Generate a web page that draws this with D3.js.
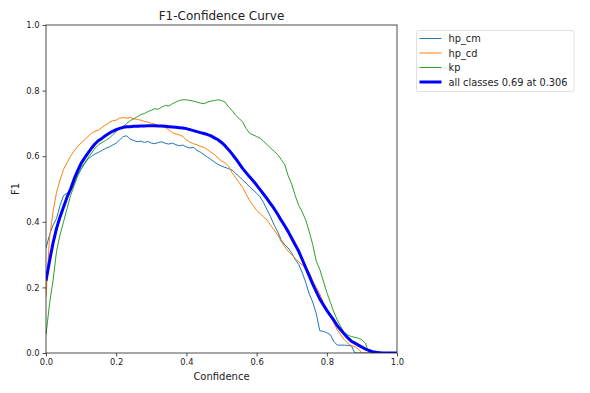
<!DOCTYPE html>
<html>
<head>
<meta charset="utf-8">
<script src="https://cdn.jsdelivr.net/npm/d3@7"></script>
<style>
  body { margin: 0; background: #fff; }
  svg { font-family: "DejaVu Sans", sans-serif; }
</style>
</head>
<body>
<svg id="chart" width="590" height="393"></svg>
<script>
// confidence grid (x values)
const conf = [
    0.00, 0.01, 0.02, 0.03, 0.04, 0.05, 0.06, 0.07, 0.08, 0.09,
    0.10, 0.11, 0.12, 0.13, 0.14, 0.15, 0.16, 0.17, 0.18, 0.19,
    0.20, 0.21, 0.22, 0.23, 0.24, 0.25, 0.26, 0.27, 0.28, 0.29,
    0.30, 0.31, 0.32, 0.33, 0.34, 0.35, 0.36, 0.37, 0.38, 0.39,
    0.40, 0.41, 0.42, 0.43, 0.44, 0.45, 0.46, 0.47, 0.48, 0.49,
    0.50, 0.51, 0.52, 0.53, 0.54, 0.55, 0.56, 0.57, 0.58, 0.59,
    0.60, 0.61, 0.62, 0.63, 0.64, 0.65, 0.66, 0.67, 0.68, 0.69,
    0.70, 0.71, 0.72, 0.73, 0.74, 0.75, 0.76, 0.77, 0.78, 0.79,
    0.80, 0.81, 0.82, 0.83, 0.84, 0.85, 0.86, 0.87, 0.88, 0.89,
    0.90, 0.91, 0.92, 0.93, 0.94, 0.95, 0.96, 0.97, 0.98, 0.99, 1.00
];

const hpCm = [
    0.32, 0.36, 0.39, 0.41, 0.45, 0.48, 0.487, 0.495, 0.515, 0.54,
    0.56, 0.577, 0.592, 0.60, 0.607, 0.612, 0.618, 0.624, 0.628, 0.634,
    0.64, 0.65, 0.66, 0.662, 0.652, 0.648, 0.644, 0.646, 0.642, 0.645,
    0.64, 0.638, 0.642, 0.644, 0.639, 0.637, 0.64, 0.635, 0.632, 0.634,
    0.628, 0.625, 0.627, 0.618, 0.612, 0.605, 0.597, 0.59, 0.582, 0.575,
    0.57, 0.566, 0.562, 0.558, 0.548, 0.538, 0.528, 0.518, 0.507, 0.497,
    0.487, 0.476, 0.458, 0.436, 0.415, 0.39, 0.37, 0.345, 0.33, 0.32,
    0.305, 0.285, 0.27, 0.245, 0.215, 0.18, 0.155, 0.12, 0.068, 0.066,
    0.062, 0.056, 0.035, 0.024, 0.024, 0.024, 0.023, 0.022, 0.0, 0.0,
    0.0, 0.0, 0.0, 0.0, 0.0, 0.0, 0.0, 0.0, 0.0, 0.0, 0.0
];

const hpCd = [
    0.17, 0.35, 0.43, 0.49, 0.527, 0.56, 0.58, 0.60, 0.615, 0.63,
    0.64, 0.65, 0.66, 0.67, 0.676, 0.68, 0.688, 0.695, 0.703, 0.708,
    0.71, 0.716, 0.718, 0.716, 0.718, 0.714, 0.712, 0.71, 0.706, 0.704,
    0.70, 0.698, 0.694, 0.69, 0.687, 0.68, 0.672, 0.668, 0.665, 0.66,
    0.65, 0.643, 0.638, 0.635, 0.63, 0.627, 0.62, 0.612, 0.605, 0.595,
    0.585, 0.58, 0.57, 0.55, 0.535, 0.52, 0.505, 0.485, 0.465, 0.45,
    0.435, 0.425, 0.415, 0.405, 0.39, 0.375, 0.36, 0.34, 0.325, 0.31,
    0.30, 0.288, 0.278, 0.268, 0.26, 0.245, 0.22, 0.20, 0.18, 0.155,
    0.135, 0.115, 0.09, 0.07, 0.055, 0.04, 0.03, 0.022, 0.02, 0.012,
    0.0, 0.0, 0.0, 0.0, 0.0, 0.0, 0.0, 0.0, 0.0, 0.0, 0.0
];

const kp = [
    0.055, 0.15, 0.22, 0.31, 0.36, 0.40, 0.44, 0.48, 0.51, 0.54,
    0.565, 0.58, 0.595, 0.61, 0.625, 0.635, 0.642, 0.648, 0.655, 0.665,
    0.675, 0.685, 0.69, 0.70, 0.708, 0.714, 0.72, 0.727, 0.73, 0.736,
    0.74, 0.745, 0.743, 0.75, 0.755, 0.753, 0.76, 0.765, 0.77, 0.772,
    0.772, 0.77, 0.768, 0.765, 0.762, 0.76, 0.765, 0.768, 0.77, 0.772,
    0.77, 0.765, 0.75, 0.74, 0.725, 0.715, 0.705, 0.685, 0.67, 0.665,
    0.66, 0.655, 0.645, 0.635, 0.625, 0.615, 0.605, 0.59, 0.575, 0.54,
    0.515, 0.48, 0.45, 0.43, 0.405, 0.37, 0.33, 0.28, 0.255, 0.22,
    0.185, 0.155, 0.125, 0.10, 0.08, 0.062, 0.055, 0.05, 0.048, 0.045,
    0.04, 0.03, 0.0, 0.0, 0.0, 0.0, 0.0, 0.0, 0.0, 0.0, 0.0
];

const allClasses = [
    0.22, 0.28, 0.335, 0.38, 0.415, 0.445, 0.475, 0.50, 0.53, 0.555,
    0.578, 0.595, 0.61, 0.625, 0.638, 0.648, 0.655, 0.663, 0.67, 0.676,
    0.681, 0.685, 0.688, 0.69, 0.69, 0.691, 0.691, 0.692, 0.692, 0.693,
    0.693, 0.693, 0.692, 0.692, 0.691, 0.69, 0.689, 0.688, 0.687, 0.686,
    0.684, 0.681, 0.678, 0.675, 0.672, 0.669, 0.666, 0.662, 0.656, 0.65,
    0.642, 0.632, 0.62, 0.607, 0.593, 0.578, 0.563, 0.55, 0.537, 0.525,
    0.512, 0.498, 0.484, 0.47, 0.455, 0.44, 0.423, 0.405, 0.388, 0.37,
    0.35, 0.33, 0.31, 0.285, 0.26, 0.235, 0.21, 0.187, 0.165, 0.147,
    0.13, 0.115, 0.10, 0.083, 0.07, 0.058, 0.046, 0.036, 0.03, 0.024,
    0.018, 0.012, 0.008, 0.004, 0.002, 0.001, 0.0, 0.0, 0.0, 0.0, 0.0
];

const seriesNames = ["hp_cm", "hp_cd", "kp", "all classes 0.69 at 0.306"];
const seriesValues = [hpCm, hpCd, kp, allClasses];
const seriesColors = ["#1f77b4", "#ff7f0e", "#2ca02c", "#0000ff"];
const seriesWidths = [1, 1, 1, 3];
const tickValues = [0, 0.2, 0.4, 0.6, 0.8, 1.0];

const svg = d3.select("#chart");
const margin = { left: 46, top: 25, right: 193, bottom: 40 };
const width = 590 - margin.left - margin.right;
const height = 393 - margin.top - margin.bottom;

const x = d3.scaleLinear().domain([0, 1]).range([0, width]);
const y = d3.scaleLinear().domain([0, 1]).range([height, 0]);

svg.append("defs").append("clipPath")
    .attr("id", "plot-clip")
    .append("rect")
    .attr("x", 0)
    .attr("y", -2)
    .attr("width", width)
    .attr("height", height + 2);

const g = svg.append("g")
    .attr("transform", "translate(" + margin.left + "," + margin.top + ")");

// axes
const xAxis = g.append("g")
    .attr("transform", "translate(0," + height + ")")
    .call(d3.axisBottom(x).tickValues(tickValues).tickFormat(d3.format(".1f")).tickSizeOuter(0).tickSize(3.5).tickPadding(3));

const yAxis = g.append("g")
    .call(d3.axisLeft(y).tickValues(tickValues).tickFormat(d3.format(".1f")).tickSizeOuter(0).tickSize(3.5).tickPadding(3));

[xAxis, yAxis].forEach(ax => {
    ax.select(".domain").remove();
    ax.selectAll(".tick line").attr("stroke", "#222").attr("stroke-width", 0.8);
    ax.selectAll(".tick text")
        .attr("fill", "#222")
        .style("font-family", "DejaVu Sans")
        .style("font-size", "8.4px");
});

// lines
const lineGen = d3.line()
    .x((d, i) => x(conf[i]))
    .y(d => y(d));

const lines = g.append("g").attr("clip-path", "url(#plot-clip)");
seriesValues.forEach((vals, k) => {
    lines.append("path")
        .attr("d", lineGen(vals))
        .attr("fill", "none")
        .attr("stroke", seriesColors[k])
        .attr("stroke-width", seriesWidths[k])
        .attr("stroke-linejoin", "round");
});

// frame
g.append("rect")
    .attr("x", 0)
    .attr("y", 0)
    .attr("width", width)
    .attr("height", height)
    .attr("fill", "none")
    .attr("stroke", "#222")
    .attr("stroke-width", 0.8);

// title and labels
svg.append("text")
    .attr("x", margin.left + width / 2)
    .attr("y", 20)
    .attr("text-anchor", "middle")
    .attr("fill", "#222")
    .style("font-size", "12px")
    .text("F1-Confidence Curve");

svg.append("text")
    .attr("x", margin.left + width / 2)
    .attr("y", 380)
    .attr("text-anchor", "middle")
    .attr("fill", "#222")
    .style("font-size", "10px")
    .text("Confidence");

svg.append("text")
    .attr("transform", "translate(19," + (margin.top + height / 2) + ") rotate(-90)")
    .attr("text-anchor", "middle")
    .attr("fill", "#222")
    .style("font-size", "10px")
    .text("F1");

// legend
const legend = svg.append("g").attr("transform", "translate(416.5,30.5)");
legend.append("rect")
    .attr("width", 157.5)
    .attr("height", 61)
    .attr("rx", 2)
    .attr("ry", 2)
    .attr("fill", "#fff")
    .attr("fill-opacity", 0.8)
    .attr("stroke", "#d9d9d9")
    .attr("stroke-width", 0.8);

seriesNames.forEach((name, k) => {
    const ly = 8 + k * 14.5;
    legend.append("line")
        .attr("x1", 3)
        .attr("x2", 25)
        .attr("y1", ly)
        .attr("y2", ly)
        .attr("stroke", seriesColors[k])
        .attr("stroke-width", seriesWidths[k]);
    legend.append("text")
        .attr("x", 32)
        .attr("y", ly + 3.5)
        .attr("fill", "#222")
        .style("font-size", "9.8px")
        .text(name);
});
</script>
</body>
</html>
